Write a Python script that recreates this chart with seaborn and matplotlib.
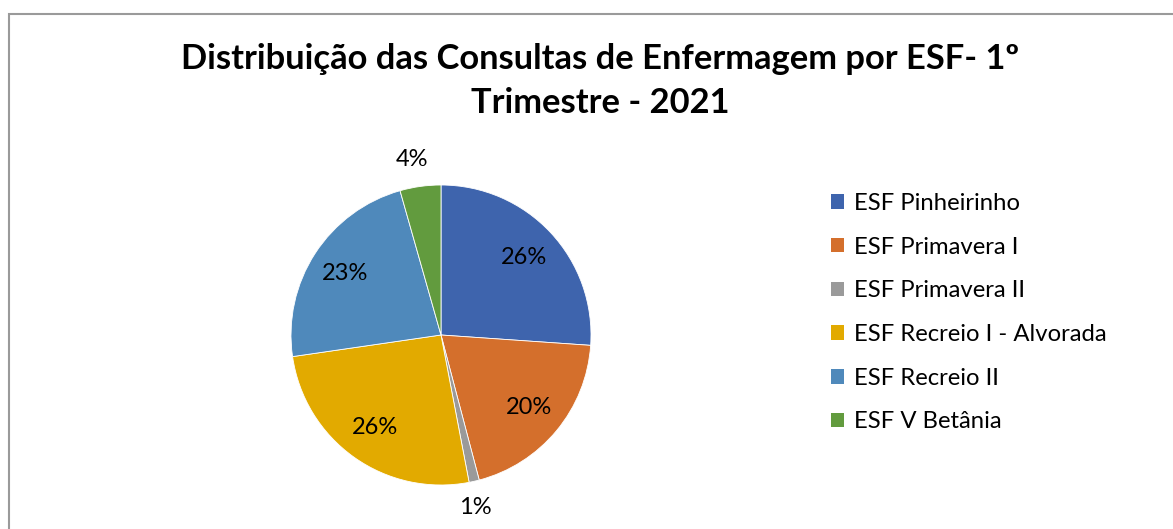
import numpy as np
import matplotlib
matplotlib.use("Agg")
import matplotlib.pyplot as plt
import seaborn as sns
from matplotlib.patches import Rectangle, Patch

# ------------------------------------------------------------------
# Data (share of nursing consultations per ESF, 1st quarter 2021)
# ------------------------------------------------------------------
units = ["ESF Pinheirinho", "ESF Primavera I", "ESF Primavera II",
         "ESF Recreio I - Alvorada", "ESF Recreio II", "ESF V Betânia"]
shares = [26.1, 19.8, 1.1, 25.7, 22.9, 4.4]
colors = ["#3E64AD", "#D46F2C", "#9A9A9A", "#E2AA00", "#4F89BB", "#629B3E"]
title = "Distribuição das Consultas de Enfermagem por ESF- 1º\nTrimestre - 2021"

sns.set_theme(style="white")
plt.rcParams["font.family"] = ["Lato", "DejaVu Sans"]
plt.rcParams["text.color"] = "black"

W, H = 1173, 529
fig = plt.figure(figsize=(W / 100, H / 100), dpi=100)

# chart area border (only left and top edges show in the crop)
fig.patches.append(Rectangle((9 / W, -0.2), 1.5, 1.2 - 14 / H,
                             transform=fig.transFigure, fill=False,
                             edgecolor="#9A9A9A", linewidth=1.5, zorder=0))

# pie axes: centre (441, 335) px, radius 150 px
cx, cy, r = 441, 335, 150
ax = fig.add_axes([(cx - r) / W, (H - cy - r) / H, 2 * r / W, 2 * r / H])
wedges, texts, autotexts = ax.pie(
    shares, colors=colors, startangle=90, counterclock=False,
    autopct="%1.0f%%", pctdistance=0.76,
    wedgeprops=dict(edgecolor="white", linewidth=0.6),
    textprops=dict(fontsize=17, color="black"))

# small slices: labels outside the pie
for w, t, v in zip(wedges, autotexts, shares):
    if v < 10:
        ang = np.deg2rad((w.theta1 + w.theta2) / 2)
        t.set_position((1.18 * np.cos(ang) - 0.03, 1.18 * np.sin(ang)))

ax.set_xlim(-1, 1)
ax.set_ylim(-1, 1)
ax.set_aspect("equal")
ax.axis("off")

fig.text(600 / W, 1 - 43 / H, title, ha="center", va="top", color="black",
         fontsize=24.8, fontweight="bold", linespacing=1.48)

handles = [Patch(facecolor=c, edgecolor="none") for c in colors]
fig.legend(handles, units, loc="upper left", bbox_to_anchor=(831 / W, 1 - 193 / H),
           frameon=False, fontsize=17.2, handlelength=0.55, handleheight=0.55,
           handletextpad=0.4, labelspacing=0.95, borderpad=0, borderaxespad=0)

fig.savefig("out.png", dpi=100, facecolor="white")
